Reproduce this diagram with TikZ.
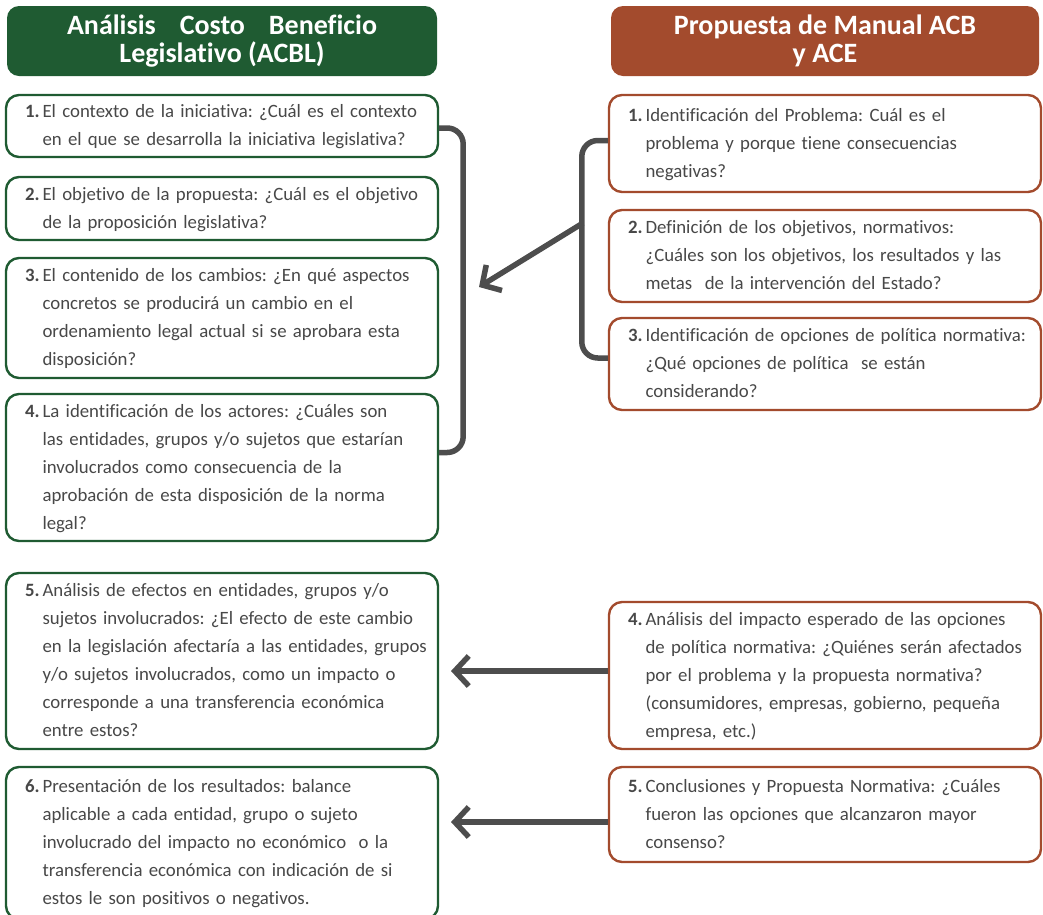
\documentclass[tikz,border=0pt]{standalone}
\usepackage{fontspec}
\setmainfont{Carlito}[Ligatures=NoCommon]
\usepackage{xcolor}
\usetikzlibrary{arrows.meta}
\definecolor{acbgreen}{HTML}{1F5B32}
\definecolor{acbbrown}{HTML}{A34B2D}
\definecolor{linkgray}{HTML}{4D4D4D}
\definecolor{textgray}{HTML}{484848}
\newcommand{\stepitem}[2]{\begin{tabular}{@{}l@{\hspace{3pt}}l@{}}\textbf{#1.} & \begin{tabular}[t]{@{}l@{}}#2\end{tabular}\end{tabular}}
\frenchspacing

\begin{document}
\begin{tikzpicture}[x=1pt,y=-1pt,
  headbox/.style={rounded corners=12pt,text=white,font=\fontsize{28}{28}\selectfont\bfseries,align=center,minimum height=70pt,inner sep=0pt},
  stepbox/.style={draw,line width=2.4pt,rounded corners=13pt,fill=white,text=textgray,font=\fontsize{18.8}{28}\selectfont,
    inner xsep=19pt,inner ysep=0pt,text width=394pt,align=left},
  leftbox/.style={stepbox,draw=acbgreen},
  rightbox/.style={stepbox,draw=acbbrown},
  link/.style={draw=linkgray,line width=5.5pt},
  arrowlink/.style={link,-{Straight Barb[length=14pt,width=30pt]}}]
\useasboundingbox (0,0) rectangle (1043,914);
\node[headbox,fill=acbgreen,minimum width=430pt] (hl) at (222,41) {\makebox[310pt][s]{Análisis \hfill Costo \hfill Beneficio}\\Legislativo (ACBL)};
\node[headbox,fill=acbbrown,minimum width=428pt] (hr) at (825,41) {Propuesta de Manual ACB\\y ACE};
\node[leftbox,minimum height=62pt] (l1) at (222,126) {\stepitem{1}{El contexto de la iniciativa: ¿Cuál es el contexto\\en el que se desarrolla la iniciativa legislativa?}};
\node[leftbox,minimum height=63pt] (l2) at (222,208.5) {\stepitem{2}{El objetivo de la propuesta: ¿Cuál es el objetivo\\de la proposición legislativa?}};
\node[leftbox,minimum height=120pt] (l3) at (222,318) {\stepitem{3}{El contenido de los cambios: ¿En qué aspectos\\concretos se producirá un cambio en el\\ordenamiento legal actual si se aprobara esta\\disposición?}};
\node[leftbox,minimum height=147pt] (l4) at (222,467.5) {\stepitem{4}{La identificación de los actores: ¿Cuáles son\\las entidades, grupos y/o sujetos que estarían\\involucrados como consecuencia de la\\aprobación de esta disposición de la norma\\legal?}};
\node[leftbox,minimum height=176pt] (l5) at (222,661) {\stepitem{5}{Análisis de efectos en entidades, grupos y/o\\sujetos involucrados: ¿El efecto de este cambio\\en la legislación afectaría a las entidades, grupos\\y/o sujetos involucrados, como un impacto o\\corresponde a una transferencia económica\\entre estos?}};
\node[leftbox,minimum height=152pt] (l6) at (222,843) {\stepitem{6}{Presentación de los resultados: balance\\aplicable a cada entidad, grupo o sujeto\\involucrado del impacto no económico\ \ o la\\transferencia económica con indicación de si\\estos le son positivos o negativos.}};
\node[rightbox,minimum height=97pt] (r1) at (825,143.5) {\stepitem{1}{Identificación del Problema: Cuál es el\\problema y porque tiene consecuencias\\negativas?}};
\node[rightbox,minimum height=92pt] (r2) at (825,256) {\stepitem{2}{Definición de los objetivos, normativos:\\¿Cuáles son los objetivos, los resultados y las\\metas\ \ de la intervención del Estado?}};
\node[rightbox,minimum height=92pt] (r3) at (825,364) {\stepitem{3}{Identificación de opciones de política normativa:\\¿Qué opciones de política\ \ se están\\considerando?}};
\node[rightbox,minimum height=147pt] (r4) at (825,675.5) {\stepitem{4}{Análisis del impacto esperado de las opciones\\de política normativa: ¿Quiénes serán afectados\\por el problema y la propuesta normativa?\\(consumidores, empresas, gobierno, pequeña\\empresa, etc.)}};
\node[rightbox,minimum height=95pt] (r5) at (825,814.5) {\stepitem{5}{Conclusiones y Propuesta Normativa: ¿Cuáles\\fueron las opciones que alcanzaron mayor\\consenso?}};
\coordinate (rbrk) at (583,223);
\coordinate (lbrk) at (479,287);
\coordinate (a4) at (451,671);
\coordinate (a5) at (451,822);
\draw[link,rounded corners=16pt] ([yshift=-2pt]l1.east) -- ++(24,0) |- ([yshift=15pt]l4.east);
\draw[link,rounded corners=16pt] ([yshift=3pt]r1.west) -- ++(-26,0) |- ([yshift=6pt]r3.west);
\draw[arrowlink] (rbrk) -- (lbrk);
\draw[arrowlink] (r4.west |- a4) -- (a4);
\draw[arrowlink] (r5.west |- a5) -- (a5);
\end{tikzpicture}
\end{document}
